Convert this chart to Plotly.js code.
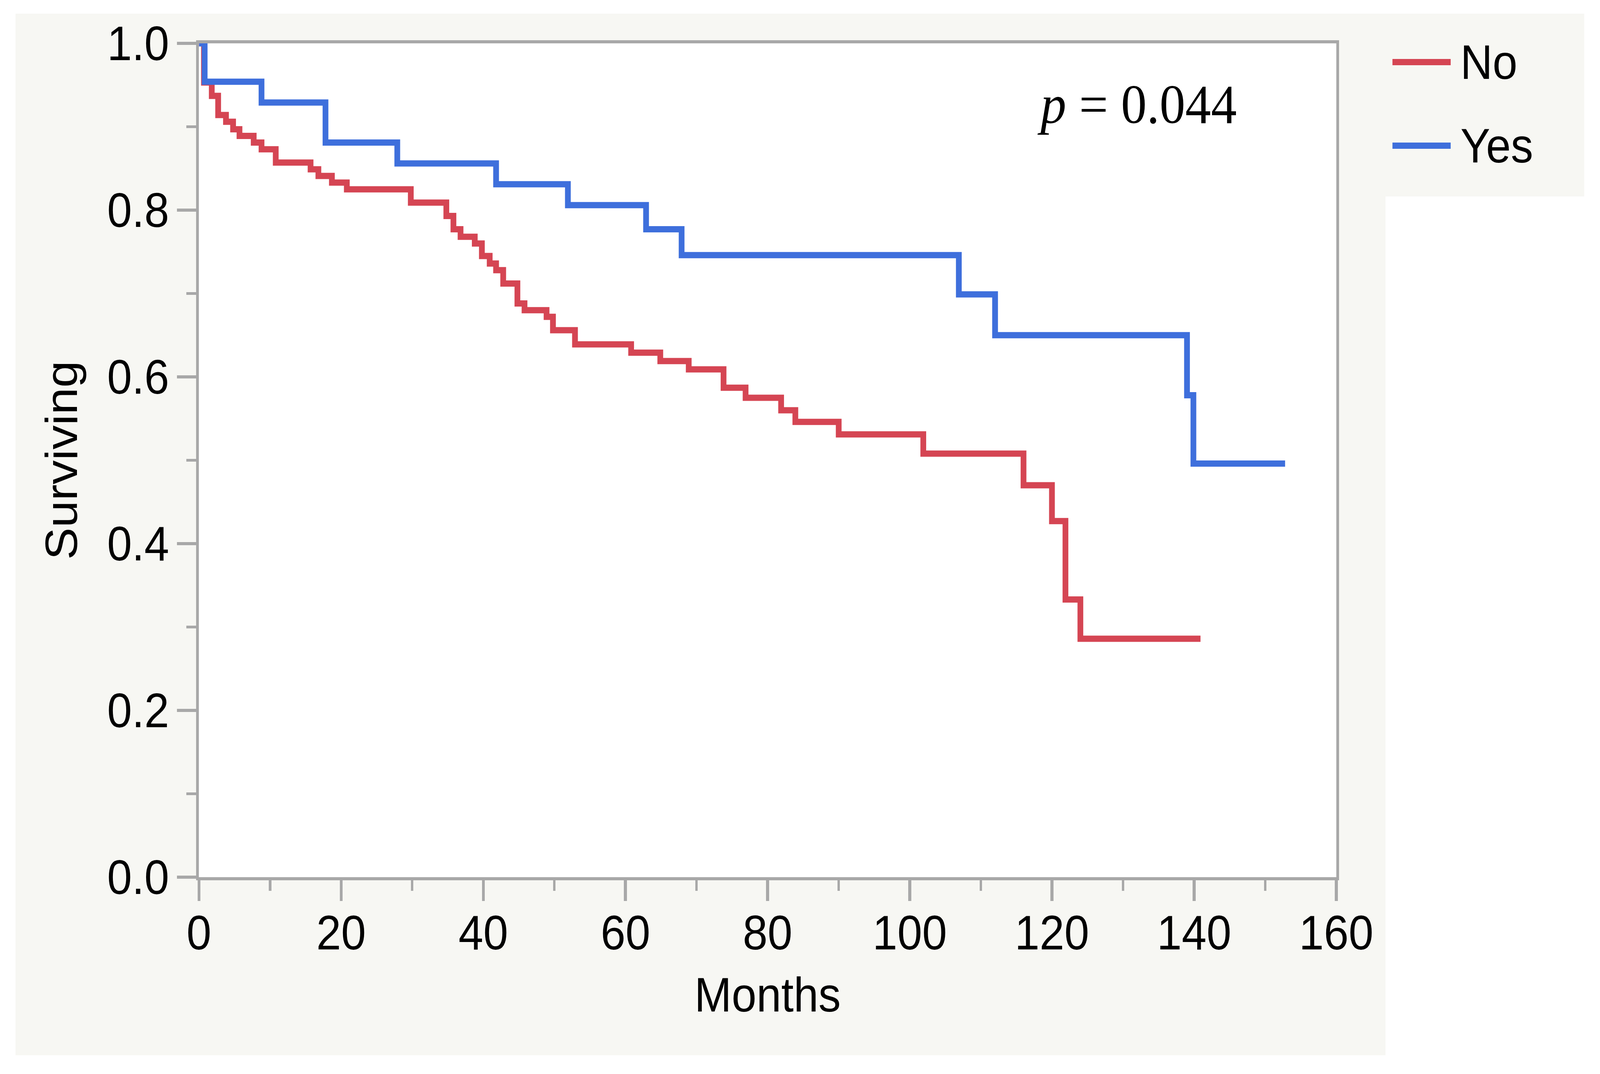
<!DOCTYPE html>
<html>
<head>
<meta charset="utf-8">
<script src="https://cdn.plot.ly/plotly-3.0.1.min.js"></script>
<style>html,body{margin:0;padding:0;background:#ffffff;overflow:hidden;}#chart{width:4447px;height:2750px;transform-origin:0 0;}</style>
</head>
<body>
<div id="chart"></div>
<script>
// Kaplan-Meier survival estimates
const noMonths = [0, 0.7, 1.8, 2.7, 3.8, 4.8, 5.7, 7.7, 8.8, 10.8, 15.7, 16.8, 18.7, 20.8, 29.8, 34.8, 35.8, 36.8, 38.8, 39.8, 40.9, 41.8, 42.8, 44.8, 45.8, 48.9, 49.8, 52.9, 60.8, 64.9, 68.9, 73.8, 76.9, 81.9, 83.9, 90.0, 101.9, 116.0, 120.0, 121.9, 124.0, 140.9];
const noSurv   = [1.0, 0.953, 0.937, 0.914, 0.906, 0.897, 0.889, 0.881, 0.873, 0.857, 0.849, 0.841, 0.833, 0.825, 0.809, 0.793, 0.777, 0.768, 0.760, 0.745, 0.736, 0.728, 0.712, 0.688, 0.680, 0.672, 0.656, 0.639, 0.629, 0.619, 0.609, 0.587, 0.575, 0.560, 0.546, 0.531, 0.508, 0.470, 0.427, 0.333, 0.286, 0.286];

const yesMonths = [0, 0.8, 8.8, 17.8, 27.9, 41.8, 51.9, 62.9, 67.9, 106.9, 112.0, 139.0, 139.9, 152.8];
const yesSurv   = [1.0, 0.954, 0.929, 0.881, 0.856, 0.831, 0.806, 0.777, 0.746, 0.699, 0.650, 0.578, 0.496, 0.496];

const seriesNames = ["No", "Yes"];
const xTickVals = [0, 20, 40, 60, 80, 100, 120, 140, 160];
const yTickVals = [0, 0.2, 0.4, 0.6, 0.8, 1.0];
const pText = "<i>p</i> = 0.044";

const RED = "#d54553";
const BLUE = "#3e6fdc";
const AXIS = "#a8a8a8";
const BG = "#f7f7f3";
const SANS = "Liberation Sans, Arial, Helvetica, sans-serif";
const SERIF = "Liberation Serif, Times New Roman, serif";
const colors = [RED, BLUE];

// The window may be narrower than the 4447 px design; fit the chart to it.
const W = 4447, H = 2750;
const sx = Math.min(1, (window.innerWidth || W) / W);
const sy = Math.min(1, (window.innerHeight || H) / H);
document.getElementById("chart").style.transform = "scale(" + sx + "," + sy + ")";

const traces = seriesNames.map((name, i) => ({
  x: i === 0 ? noMonths : yesMonths,
  y: i === 0 ? noSurv : yesSurv,
  name: name, type: "scatter", mode: "lines", showlegend: false,
  line: {shape: "hv", color: colors[i], width: 16}
}));

// hand-built legend (line keys + labels) placed to the right of the plot
const legendY = [0.9775, 0.8773];
const legendShapes = seriesNames.map((name, i) => ({
  type: "line", xref: "paper", yref: "paper", x0: 1.0494, x1: 1.1006,
  y0: legendY[i], y1: legendY[i], line: {color: colors[i], width: 16}
}));
const legendLabels = seriesNames.map((name, i) => ({
  text: name, xref: "paper", yref: "paper", x: 1.1085, y: legendY[i],
  xanchor: "left", yanchor: "middle", showarrow: false,
  font: {family: SANS, size: 124, color: "#000000"}
}));

const layout = {
  width: W, height: H,
  margin: {l: 553, r: 733, t: 111, b: 504, pad: 0},
  paper_bgcolor: "#ffffff",
  plot_bgcolor: "#ffffff",
  font: {family: SANS, size: 124, color: "#000000"},
  showlegend: false,
  xaxis: {
    range: [0, 160], tickvals: xTickVals, ticktext: xTickVals.map(String),
    ticks: "outside", ticklen: 53, tickwidth: 8, tickcolor: AXIS,
    showline: true, linecolor: AXIS, linewidth: 8, mirror: true,
    showgrid: false, zeroline: false, ticklabelstandoff: -25,
    tickfont: {family: SANS, size: 124, color: "#000000"},
    minor: {dtick: 10, ticks: "outside", ticklen: 27, tickwidth: 7, tickcolor: AXIS, showgrid: false},
    title: {text: "Months", font: {family: SANS, size: 124, color: "#000000"}, standoff: 50}
  },
  yaxis: {
    range: [0, 1], tickvals: yTickVals, ticktext: yTickVals.map(v => v.toFixed(1)),
    ticks: "outside", ticklen: 53, tickwidth: 8, tickcolor: AXIS,
    showline: true, linecolor: AXIS, linewidth: 8, mirror: true,
    showgrid: false, zeroline: false, ticklabelstandoff: -3,
    tickfont: {family: SANS, size: 124, color: "#000000"},
    minor: {dtick: 0.1, ticks: "outside", ticklen: 27, tickwidth: 7, tickcolor: AXIS, showgrid: false},
    title: {text: "Surviving", font: {family: SANS, size: 124, color: "#000000"}, standoff: 45}
  },
  shapes: [
    {type: "rect", xref: "paper", yref: "paper", x0: -0.1613, x1: 1.0433, y0: -0.2136, y1: 1.0356,
     fillcolor: BG, line: {width: 0}, layer: "below"},
    {type: "rect", xref: "paper", yref: "paper", x0: 1.0433, x1: 1.2180, y0: 0.8164, y1: 1.0356,
     fillcolor: BG, line: {width: 0}, layer: "below"},
    {type: "rect", xref: "paper", yref: "paper", x0: 0, x1: 1, y0: 0, y1: 1,
     fillcolor: "#ffffff", line: {width: 0}, layer: "below"}
  ].concat(legendShapes),
  annotations: [
    {text: pText, xref: "paper", yref: "paper", x: 0.8247, y: 0.927,
     xanchor: "center", yanchor: "middle", showarrow: false,
     font: {family: SERIF, size: 143, color: "#000000"}}
  ].concat(legendLabels)
};

Plotly.newPlot("chart", traces, layout, {staticPlot: true, displayModeBar: false});
</script>
</body>
</html>
